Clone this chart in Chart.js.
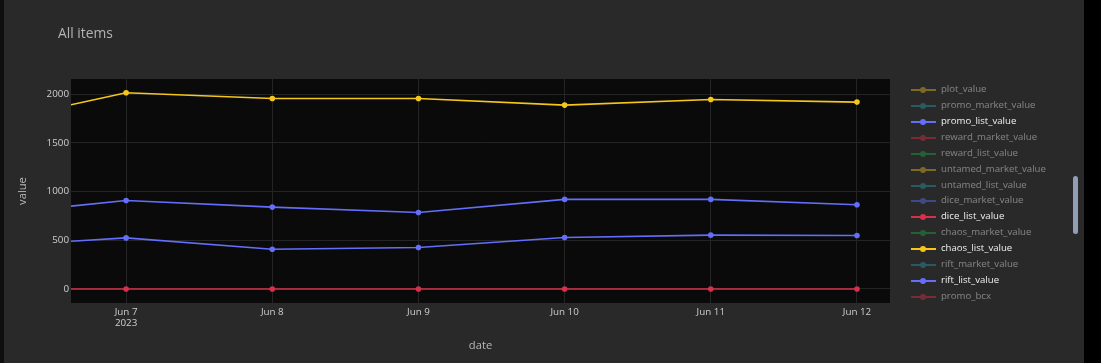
<!DOCTYPE html>
<html>
<head>
<meta charset="utf-8">
<script src="https://cdn.jsdelivr.net/npm/chart.js@4.4.0/dist/chart.umd.min.js"></script>
<style>
    html, body { margin: 0; padding: 0; background: #0e0e0e; overflow: hidden; }
    body { width: 1101px; height: 363px; position: relative; font-family: "Open Sans", sans-serif; }
    #paper { position: absolute; left: 4px; top: 0; width: 1080px; height: 363px; background: #292929; }
    #rightbar { position: absolute; left: 1084px; top: 0; width: 17px; height: 363px; background: #000; }
    #wrap { position: absolute; left: 0; top: 0; width: 1101px; height: 363px; }
    #title { position: absolute; left: 58px; top: 23px; font-size: 13.8px; color: #b4b4b4; }
    #legend { position: absolute; left: 910px; top: 0; }
    .item { position: absolute; left: 0; height: 14px; width: 160px; }
    .item .ln { position: absolute; left: 1px; top: 6px; width: 25px; height: 2px; }
    .item .dot { position: absolute; left: 10px; top: 4px; width: 6px; height: 6px; border-radius: 50%; }
    .item .tx { position: absolute; left: 31px; top: -1px; font-size: 9.6px; color: #f0f0f0; white-space: nowrap; }
    .item.off { opacity: 0.45; }
    #scroll { position: absolute; left: 1073px; top: 176px; width: 5px; height: 58px; background: #8f9db5; border-radius: 3px; }
</style>
</head>
<body>
<div id="paper"></div>
<div id="rightbar"></div>
<div id="wrap"><canvas id="chart" width="1101" height="363"></canvas></div>
<div id="title">All items</div>
<div id="legend"></div>
<div id="scroll"></div>
<script>
// day of June 2023 (first entry is the left edge of the view)
const days = [6.623, 7, 8, 9, 10, 11, 12];
const xTicks = [7, 8, 9, 10, 11, 12];
const yTicks = [0, 500, 1000, 1500, 2000];

const chaosList = [1889, 2013, 1954, 1954, 1886, 1944, 1917];
const promoList = [850, 908, 840, 785, 919, 919, 864];
const riftList = [490, 524, 408, 425, 528, 552, 548];
const diceList = [0, 0, 0, 0, 0, 0, 0];

const seriesNames = [
    'plot_value', 'promo_market_value', 'promo_list_value', 'reward_market_value',
    'reward_list_value', 'untamed_market_value', 'untamed_list_value', 'dice_market_value',
    'dice_list_value', 'chaos_market_value', 'chaos_list_value', 'rift_market_value',
    'rift_list_value', 'promo_bcx'
];
const seriesColors = ['#e6b818', '#2a98ad', '#636efa', '#d6304a', '#23a24a',
                      '#e6b818', '#2a98ad', '#636efa', '#d6304a', '#23a24a',
                      '#f6c71a', '#2a98ad', '#636efa', '#d6304a'];
const seriesData = {
    promo_list_value: promoList,
    dice_list_value: diceList,
    chaos_list_value: chaosList,
    rift_list_value: riftList
};

const datasets = seriesNames.map((name, i) => {
    const vals = seriesData[name];
    return {
        label: name,
        data: vals ? vals.map((v, k) => ({ x: days[k], y: v })) : [],
        hidden: !vals,
        borderColor: seriesColors[i],
        backgroundColor: seriesColors[i],
        borderWidth: 1.6,
        pointRadius: ctx => ctx.dataIndex === 0 ? 0 : 2.8,
        pointBorderWidth: 0,
        tension: 0
    };
});

const plotBg = {
    id: 'plotBg',
    beforeDraw(chart) {
        const { ctx, chartArea: a } = chart;
        ctx.save();
        ctx.fillStyle = '#0a0a0a';
        ctx.fillRect(a.left, a.top, a.right - a.left, a.bottom - a.top);
        ctx.restore();
    }
};

const tickFont = { family: 'Open Sans', size: 9.8 };

const chart = new Chart(document.getElementById('chart'), {
    type: 'line',
    data: { datasets },
    plugins: [plotBg],
    options: {
        responsive: false,
        animation: false,
        layout: { padding: { left: 0, top: 79, right: 211, bottom: 0 } },
        plugins: { legend: { display: false }, tooltip: { enabled: false } },
        scales: {
            x: {
                type: 'linear',
                min: 6.623,
                max: 12.226,
                afterBuildTicks: s => { s.ticks = xTicks.map(v => ({ value: v })); },
                afterFit: s => { s.height = 60; },
                grid: { color: '#242424', drawTicks: false },
                border: { display: false },
                ticks: {
                    color: '#cfcfcf',
                    font: tickFont,
                    padding: 3,
                    maxRotation: 0,
                    callback: v => v === 7 ? ['Jun ' + v, '2023'] : 'Jun ' + v
                },
                title: { display: true, text: 'date', color: '#b8b8b8', font: { family: 'Open Sans', size: 11.2 }, padding: { top: 0, bottom: 10 } }
            },
            y: {
                min: -144,
                max: 2154,
                afterBuildTicks: s => { s.ticks = yTicks.map(v => ({ value: v })); },
                afterFit: s => { s.width = 71; },
                grid: { color: '#242424', drawTicks: false },
                border: { display: false },
                ticks: { color: '#cfcfcf', font: tickFont, padding: 2, callback: v => String(v) },
                title: { display: true, text: 'value', color: '#b8b8b8', font: { family: 'Open Sans', size: 11.2 }, padding: { top: 16, bottom: 0 } }
            }
        }
    }
});

// plotly-like legend built from the chart's datasets
const legendEl = document.getElementById('legend');
chart.data.datasets.forEach((ds, i) => {
    const item = document.createElement('div');
    item.className = 'item' + (ds.hidden ? ' off' : '');
    item.style.top = (83 + i * 15.92) + 'px';
    item.innerHTML = '<div class="ln" style="background:' + ds.borderColor + '"></div>' +
        '<div class="dot" style="background:' + ds.borderColor + '"></div>' +
        '<div class="tx">' + ds.label + '</div>';
    legendEl.appendChild(item);
});
</script>
</body>
</html>
